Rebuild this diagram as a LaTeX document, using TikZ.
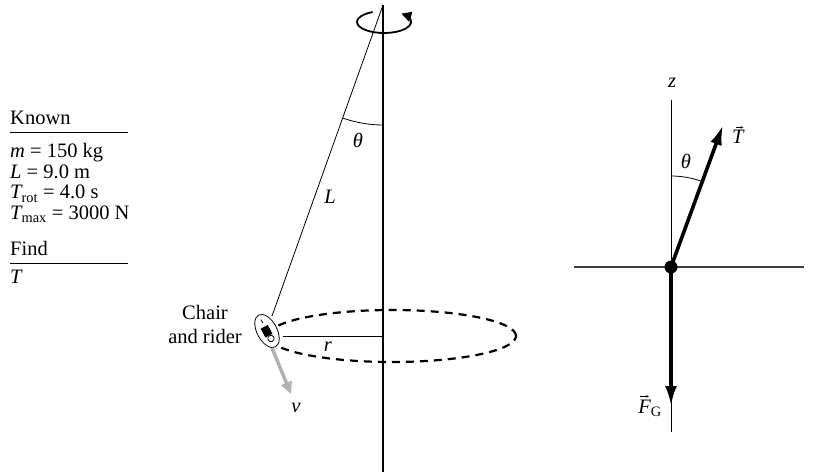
\documentclass[tikz,border=0pt]{standalone}
\usepackage{amsmath}
\usepackage{fontspec}
\setmainfont{Liberation Serif}
\usetikzlibrary{arrows.meta}
\begin{document}
\begin{tikzpicture}[x=1pt,y=1pt,
  txt/.style={font=\fontsize{20.5}{24}\selectfont, inner sep=0pt},
  thinline/.style={line width=0.8pt},
  axisline/.style={line width=1.3pt},
  vecline/.style={line width=3.6pt},
  accent/.style={line width=0.6pt, -{Stealth[length=3pt,width=2.6pt]}},
  gridline/.style={line width=1.2pt, draw=black!75}]
\useasboundingbox (0,0) rectangle (813,474);

% ---------- Known / Find block ----------
\node[txt, anchor=base west] (known) at (10,349) {Known};
\draw[thinline] (10,342) -- (128,342);
\node[txt, anchor=base west] (m) at (10,316) {\textit{m} = 150 kg};
\node[txt, anchor=base west] (L) at (10,295.5) {\textit{L} = 9.0 m};
\node[txt, anchor=base west] (trot) at (10,275) {\(\textit{T}_{\text{rot}}\) = 4.0 s};
\node[txt, anchor=base west] (tmax) at (10,254.5) {\(\textit{T}_{\text{max}}\) = 3000 N};
\node[txt, anchor=base west] (find) at (10,218) {Find};
\draw[thinline] (10,211) -- (128,211);
\node[txt, anchor=base west] (T) at (10,190) {\textit{T}};

% ---------- swing ride ----------
\coordinate (top) at (383,469);
\coordinate (bot) at (383,2);
\coordinate (hub) at (383,138);
\draw[axisline] (top) -- (bot);

% rotation sense
\draw[line width=1.8pt, -{Triangle[length=10pt,width=10pt]}]
  (384,452) ++(115:27pt and 11pt)
  arc[start angle=115, end angle=410, x radius=27pt, y radius=11pt];

% circular path of the chair
\draw[line width=2.2pt, dash pattern=on 8pt off 6pt] (392,138) ellipse[x radius=124pt, y radius=26pt];

% chair and rider
\coordinate (chair) at (267,143);
\draw[thinline] (top) -- (272,158) coordinate (hook);
\draw[thinline] (283,138) -- (hub);
\draw[gray!60, line width=3.5pt, -{Triangle[length=12pt,width=11pt]}] (272,126) -- (291,80) coordinate (vtip);
\begin{scope}[shift={(chair)}, rotate=-62]
  \draw[fill=white, line width=0.8pt] (0,0) ellipse[x radius=18pt, y radius=10pt];
  \fill (-5,-4.5) rectangle (5,3.5);
  \draw[line width=0.8pt] (8.5,0) circle[radius=3.2pt];
  \draw[line width=0.8pt] (-9,0) -- (-13,0);
\end{scope}

\node[txt] (theta1) at (358,334) {\textit{θ}};
\draw[thinline] (top) ++(250.4:120pt) arc[start angle=250.4, end angle=270, radius=120pt];
\node[txt] (Lbl) at (330,277) {\textit{L}};
\node[txt] (rlbl) at (328,127) {\textit{r}};
\node[txt] (vlbl) at (296,66) {\textit{v}};
\node[txt, align=center] (rider) at (205,150) {Chair\\and rider};

% ---------- free-body diagram ----------
\coordinate (O) at (671,207);
\draw[gridline] (574,207) -- (804,207);
\draw[thinline] (671,374) -- (O);
\draw[thinline] (O) -- (671,42) coordinate (zbot);
\node[txt] (z) at (672,391) {\textit{z}};
\draw[vecline, -{Latex[length=20pt,width=12pt]}] (O) -- (723,349) coordinate (Ttip);
\draw[vecline, -{Latex[length=20pt,width=12pt]}] (O) -- (671,68) coordinate (Ftip);
\fill (O) circle[radius=6.5pt];
\draw[thinline] (O) ++(90:91pt) arc[start angle=90, end angle=69.8, radius=91pt];
\node[txt] (theta2) at (686,313) {\textit{θ}};

% force labels with vector arrows
\node[txt, anchor=base west] (Tlbl) at (732,330) {\textit{T}};
\draw[accent] ([xshift=-3pt,yshift=3pt]Tlbl.north) -- ([xshift=5pt,yshift=3pt]Tlbl.north);
\node[txt, anchor=base east] (FG) at (662,61) {\textit{F}\(_{\text{G}}\)};
\draw[accent] ([xshift=-10pt,yshift=3pt]FG.north) -- ([xshift=-1pt,yshift=3pt]FG.north);
\end{tikzpicture}
\end{document}
